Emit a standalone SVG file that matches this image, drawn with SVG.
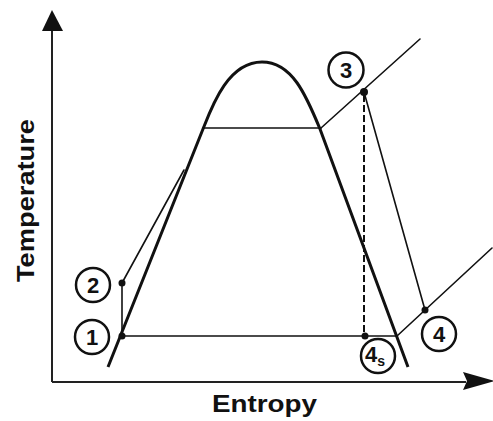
<svg xmlns="http://www.w3.org/2000/svg" width="493" height="421" viewBox="0 0 493 421">
<style>
.ln{fill:none;stroke:#111;stroke-width:1.6;stroke-linecap:round}
.dome{fill:none;stroke:#111;stroke-width:3;stroke-linejoin:round}
.ax{fill:none;stroke:#222;stroke-width:2}
.dot{fill:#111}
.lbl circle{fill:#fff;stroke:#111;stroke-width:2.5}
.lbl text{font-family:"Liberation Sans",Arial,sans-serif;font-weight:bold;font-size:22px;fill:#111;text-anchor:middle}
.axt{font-family:"Liberation Sans",Arial,sans-serif;font-weight:bold;font-size:24px;fill:#111;text-anchor:middle}
</style>
<rect width="493" height="421" fill="#fff"/>
<g id="axes">
<line class="ax" x1="52" y1="28" x2="52" y2="382"/>
<line class="ax" x1="52" y1="382" x2="466" y2="382"/>
<polygon points="52,10 63,31 42,31" fill="#111"/>
<polygon points="463,372 495,381 463,390 467,381" fill="#111"/>
<text class="axt" transform="translate(34,200.5) rotate(-90)" textLength="163" lengthAdjust="spacingAndGlyphs">Temperature</text>
<text class="axt" x="264.5" y="412" textLength="105" lengthAdjust="spacingAndGlyphs">Entropy</text>
</g>
<g id="dome">
<path class="dome" d="M108,367 L203,129 C212,106 228,62 262,62 C292,62 306,95 320,129 L408,367"/>
</g>
<g id="connectors">
<line class="ln" x1="203" y1="128" x2="321" y2="128"/>
<line class="ln" x1="321" y1="128" x2="420" y2="39"/>
<line class="ln" x1="122" y1="336" x2="397" y2="336"/>
<line class="ln" x1="122" y1="336" x2="122" y2="283"/>
<line class="ln" x1="122" y1="283" x2="184" y2="170"/>
<line class="ln" x1="364" y1="92" x2="425" y2="310"/>
<line class="ln" x1="397" y1="336" x2="492" y2="248"/>
<line x1="364" y1="95" x2="364" y2="336" stroke="#111" stroke-width="2" stroke-dasharray="7,3"/>
</g>
<g id="p1"><circle class="dot" cx="122" cy="336" r="3.5"/><g class="lbl"><circle cx="92" cy="337" r="17"/><text x="92" y="345">1</text></g></g>
<g id="p2"><circle class="dot" cx="122" cy="283" r="3.5"/><g class="lbl"><circle cx="93" cy="285" r="17"/><text x="93" y="293">2</text></g></g>
<g id="p3"><circle class="dot" cx="364" cy="92" r="4"/><g class="lbl"><circle cx="346" cy="70" r="17.5"/><text x="346" y="78">3</text></g></g>
<g id="p4"><circle class="dot" cx="425" cy="310" r="3.5"/><g class="lbl"><circle cx="439" cy="334" r="17"/><text x="439" y="342">4</text></g></g>
<g id="p4s"><circle class="dot" cx="365" cy="336" r="3.5"/><g class="lbl"><circle cx="378" cy="356" r="17"/><text x="375" y="362">4<tspan font-size="14" dy="4">s</tspan></text></g></g>
</svg>
